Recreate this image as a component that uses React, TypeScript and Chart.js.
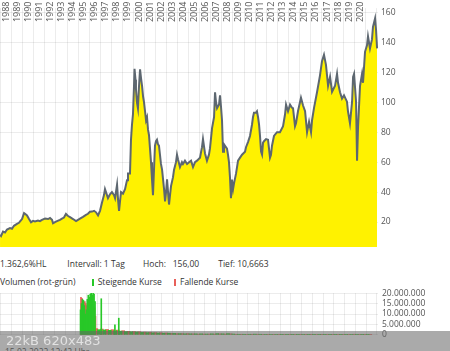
import React, { useEffect, useRef } from "react";
import { Chart, registerables } from "chart.js";

Chart.register(...registerables);

// ---------- data ----------
const yearLabels = [
  1988, 1989, 1990, 1991, 1992, 1993, 1994, 1995, 1996, 1997, 1998, 1999, 2000,
  2001, 2002, 2003, 2004, 2005, 2006, 2007, 2008, 2009, 2010, 2011, 2012, 2013,
  2014, 2015, 2016, 2017, 2018, 2019, 2020,
];
const gridYears = [
  1988, 1989, 1990, 1991, 1992, 1993, 1994, 1995, 1996, 1997, 1998, 1999, 2000,
  2001, 2002, 2003, 2004, 2005, 2006, 2007, 2008, 2009, 2010, 2011, 2012, 2013,
  2014, 2015, 2016, 2017, 2018, 2019, 2020, 2021, 2022,
];
const priceTicks = [20, 40, 60, 80, 100, 120, 140, 160];
const volumeTicks = [0, 5000000, 10000000, 15000000, 20000000];

const priceYears = [
  1987.94, 1988.03, 1988.21, 1988.39, 1988.57, 1988.84, 1989.02, 1989.2, 1989.47, 1989.65,
  1989.75, 1989.93, 1990.11, 1990.2, 1990.38, 1990.56, 1990.74, 1990.92, 1991.1, 1991.37,
  1991.55, 1991.73, 1992.01, 1992.28, 1992.46, 1992.64, 1992.73, 1992.91, 1993.09, 1993.36,
  1993.54, 1993.72, 1993.9, 1994.09, 1994.27, 1994.54, 1994.81, 1994.99, 1995.17, 1995.44,
  1995.71, 1995.89, 1996.07, 1996.26, 1996.44, 1996.62, 1996.8, 1996.98, 1997.16, 1997.34,
  1997.43, 1997.61, 1997.7, 1997.88, 1998.06, 1998.25, 1998.34, 1998.52, 1998.61, 1998.7,
  1998.79, 1998.88, 1999.06, 1999.24, 1999.42, 1999.51, 1999.69, 1999.78, 1999.87, 1999.96,
  2000.05, 2000.1, 2000.19, 2000.23, 2000.32, 2000.41, 2000.5, 2000.6, 2000.69, 2000.78,
  2000.87, 2000.96, 2001.05, 2001.14, 2001.23, 2001.32, 2001.41, 2001.5, 2001.59, 2001.68,
  2001.77, 2001.86, 2001.95, 2002.04, 2002.13, 2002.22, 2002.31, 2002.4, 2002.49, 2002.59,
  2002.68, 2002.77, 2002.86, 2002.95, 2003.04, 2003.13, 2003.22, 2003.31, 2003.4, 2003.58,
  2003.67, 2003.85, 2003.94, 2004.03, 2004.21, 2004.39, 2004.48, 2004.66, 2004.85, 2005.03,
  2005.21, 2005.39, 2005.57, 2005.75, 2006.02, 2006.2, 2006.29, 2006.47, 2006.65, 2006.83,
  2006.92, 2007.11, 2007.29, 2007.38, 2007.47, 2007.56, 2007.74, 2007.83, 2007.92, 2008.01,
  2008.1, 2008.19, 2008.28, 2008.46, 2008.55, 2008.64, 2008.73, 2008.82, 2008.91, 2009.01,
  2009.1, 2009.28, 2009.46, 2009.64, 2009.82, 2010.09, 2010.18, 2010.36, 2010.54, 2010.72,
  2010.81, 2010.9, 2011.08, 2011.17, 2011.27, 2011.36, 2011.45, 2011.54, 2011.63, 2011.72,
  2011.81, 2011.99, 2012.17, 2012.26, 2012.35, 2012.44, 2012.53, 2012.71, 2012.98, 2013.25,
  2013.53, 2013.71, 2013.8, 2013.98, 2014.16, 2014.34, 2014.43, 2014.61, 2014.7, 2014.88,
  2015.15, 2015.33, 2015.52, 2015.7, 2015.88, 2016.06, 2016.15, 2016.33, 2016.6, 2016.87,
  2017.05, 2017.23, 2017.41, 2017.6, 2017.78, 2017.96, 2018.23, 2018.41, 2018.5, 2018.68,
  2018.86, 2019.04, 2019.31, 2019.4, 2019.58, 2019.77, 2019.86, 2019.95, 2020.13, 2020.22,
  2020.31, 2020.49, 2020.67, 2020.76, 2020.94, 2021.12, 2021.21, 2021.39, 2021.57, 2021.66,
  2021.85, 2021.94, 2022.03,
];
const priceValues = [
  11.5, 10.67, 13.6, 13, 15, 16, 15.5, 17.5, 18.8, 19.5,
  20.4, 22, 26, 25.5, 24.4, 22, 19.8, 20.8, 20.4, 21,
  20.6, 21.5, 22.3, 22, 22.7, 21.5, 19.2, 20, 20.6, 21.5,
  22.3, 23, 25.4, 24, 23.3, 22, 20.6, 21.5, 22.3, 23.5,
  24.8, 25.5, 26.9, 27, 27.5, 26.5, 24.4, 27.5, 33, 38,
  42, 38, 35.9, 38.5, 40, 38, 36, 45, 35, 27.5,
  34, 40, 39, 42, 48, 52.5, 52.5, 75, 85, 92,
  110, 122.3, 115, 108.7, 100, 96, 110, 122, 116, 111,
  104, 100, 94, 88, 90, 81.7, 78, 69, 60, 48.5,
  38, 55, 71, 74, 75, 72, 71, 65, 58.8, 55,
  48.5, 42, 33.8, 40, 48.5, 40, 31.7, 38, 44, 50,
  54.8, 60, 65, 62, 56.7, 60, 58.8, 61, 58.8, 60,
  61, 56.7, 60, 61, 63, 70, 75.4, 66, 61, 65,
  69, 82.7, 90, 106.7, 100, 96, 98.5, 104.6, 97, 88,
  67, 72, 71, 69, 65, 60, 50, 36, 48.4, 42,
  46, 52.5, 61, 63, 65, 67, 70, 73.4, 77.5, 85,
  90, 93, 93, 94, 90, 85, 77, 67, 65, 73,
  74, 75.4, 75, 69, 63, 65, 71, 77.5, 80, 80,
  84, 92, 98.4, 94, 98.4, 96.3, 96, 84, 86, 94,
  103, 98, 94, 80, 87, 80, 88, 96.3, 106.7, 118,
  127.5, 131.7, 125, 111, 117, 107, 111, 119, 113, 106.7,
  102.5, 104.6, 100.4, 94, 86, 100.4, 117, 119, 100.4, 61,
  83.7, 111, 119, 113, 133.7, 138, 144, 136, 142, 150.4,
  156, 148, 136,
];

// dense volume bars (1995-1998 spikes); 1 = rising (green), 0 = falling (red)
const volDenseYears = [
  1994.93, 1994.97, 1995.02, 1995.06, 1995.11, 1995.15, 1995.2, 1995.24, 1995.29, 1995.33,
  1995.38, 1995.42, 1995.47, 1995.51, 1995.56, 1995.6, 1995.65, 1995.69, 1995.74, 1995.78,
  1995.83, 1995.87, 1995.92, 1995.96, 1996.01, 1996.05, 1996.1, 1996.14, 1996.19, 1996.23,
  1996.28, 1996.32, 1996.86, 1998.13, 1998.49,
];
const volDenseValues = [
  12, 18, 15, 17.5, 17, 16, 16.5, 15, 14, 16,
  10, 15, 12, 14, 17, 11, 19, 12, 18, 13,
  19.5, 10, 20, 12, 19, 14, 20, 12, 19.5, 13,
  16, 9, 17.3, 4.8, 8,
];
const volDenseRising = [
  1, 0, 1, 0, 1, 0, 1, 0, 1, 0,
  1, 0, 1, 0, 1, 0, 1, 0, 1, 0,
  1, 0, 1, 0, 1, 0, 1, 0, 1, 0,
  1, 0, 1, 1, 1,
];

// base volume (quarterly-ish), in millions
const volBaseYears = [
  1996.4, 1996.65, 1996.9, 1997.15, 1997.4, 1997.65, 1997.9, 1998.15, 1998.4, 1998.65,
  1998.9, 1999.15, 1999.4, 1999.65, 1999.9, 2000.15, 2000.4, 2000.65, 2000.9, 2001.15,
  2001.4, 2001.65, 2001.9, 2002.15, 2002.4, 2002.65, 2002.9, 2003.15, 2003.4, 2003.65,
  2003.9, 2004.15, 2004.4, 2004.65, 2004.9, 2005.15, 2005.4, 2005.65, 2005.9, 2006.15,
  2006.4, 2006.65, 2006.9, 2007.15, 2007.4, 2007.65, 2007.9, 2008.15, 2008.4, 2008.65,
  2008.9, 2009.15, 2009.4, 2009.65, 2009.9, 2010.15, 2010.4, 2010.65, 2010.9, 2011.15,
  2011.4, 2011.65, 2011.9, 2012.15, 2012.4, 2012.65, 2012.9, 2013.15, 2013.4, 2013.65,
  2013.9, 2014.15, 2014.4, 2014.65, 2014.9, 2015.15, 2015.4, 2015.65, 2015.9, 2016.15,
  2016.4, 2016.65, 2016.9, 2017.15, 2017.4, 2017.65, 2017.9, 2018.15, 2018.4, 2018.65,
  2018.9, 2019.15, 2019.4, 2019.65, 2019.9, 2020.15, 2020.4, 2020.65, 2020.9, 2021.15,
  2021.4, 2021.65, 2021.9,
];
const volBaseValues = [
  3, 2.5, 2.8, 2.4, 2.6, 2.2, 2.5, 2, 2.3, 1.8,
  2, 1.6, 1.7, 1.5, 1.6, 1.4, 1.5, 1.2, 1.3, 1.1,
  1.2, 1, 1.1, 0.9, 1, 0.8, 0.9, 0.8, 0.7, 0.7,
  0.6, 0.6, 0.6, 0.5, 0.6, 0.5, 0.5, 0.5, 0.4, 0.5,
  0.4, 0.4, 0.4, 0.5, 0.4, 0.6, 0.5, 0.5, 0.4, 0.6,
  0.5, 0.4, 0.3, 0.3, 0.3, 0.3, 0.25, 0.3, 0.3, 0.35,
  0.3, 0.3, 0.25, 0.25, 0.2, 0.25, 0.2, 0.25, 0.2, 0.2,
  0.25, 0.2, 0.2, 0.2, 0.25, 0.2, 0.2, 0.25, 0.2, 0.2,
  0.2, 0.2, 0.25, 0.2, 0.2, 0.2, 0.2, 0.2, 0.2, 0.2,
  0.2, 0.2, 0.2, 0.2, 0.2, 0.25, 0.3, 0.2, 0.2, 0.2,
  0.2, 0.2, 0.2,
];

const infoTexts = ["1.362,6%HL", "Intervall: 1 Tag", "Hoch:", "156,00", "Tief: 10,6663"];

// ---------- styles ----------
const FONT = '"Open Sans", "Noto Sans", sans-serif';
const X_MIN = 1987.937;
const X_MAX = 2022.114;
const GRID = "rgba(0,0,0,0.075)";
const GREEN = "rgb(40,200,40)";
const RED = "rgb(232,96,90)";

const yearLabelPlugin = {
  id: "yearLabels",
  afterDraw(chart: any) {
    const xs = chart.scales.x;
    const ctx = chart.ctx;
    ctx.save();
    ctx.font = `9px ${FONT}`;
    ctx.fillStyle = "#555";
    ctx.textAlign = "right";
    ctx.textBaseline = "middle";
    yearLabels.forEach((y) => {
      const px = xs.getPixelForValue(y + 0.5);
      ctx.save();
      ctx.translate(px, 1.5);
      ctx.rotate(-Math.PI / 2);
      ctx.fillText(String(y), 0, 0);
      ctx.restore();
    });
    ctx.restore();
  },
};

const fmt = (v: number) => String(Math.round(v)).replace(/\B(?=(\d{3})+(?!\d))/g, ".");

function xScale() {
  return {
    type: "linear" as const,
    min: X_MIN,
    max: X_MAX,
    z: 1,
    afterBuildTicks: (s: any) => {
      s.ticks = gridYears.map((v) => ({ value: v }));
    },
    afterFit: (s: any) => {
      s.height = 0;
    },
    ticks: { display: false },
    grid: { color: GRID, drawTicks: false },
    border: { display: false },
  };
}

export default function App() {
  const priceRef = useRef<HTMLCanvasElement>(null);
  const volRef = useRef<HTMLCanvasElement>(null);

  useEffect(() => {
    const priceData = priceYears.map((x, i) => ({ x, y: priceValues[i] }));
    const pc = new Chart(priceRef.current!, {
      type: "line",
      data: {
        datasets: [
          {
            data: priceData,
            borderColor: "#5d6770",
            borderWidth: 2,
            backgroundColor: "#fff200",
            fill: "start",
            pointRadius: 0,
            tension: 0,
          },
        ],
      },
      options: {
        animation: false,
        responsive: false,
        events: [],
        layout: { padding: 0, autoPadding: false } as any,
        plugins: { legend: { display: false }, tooltip: { enabled: false } },
        scales: {
          x: xScale() as any,
          y: {
            position: "right",
            min: 3.4,
            max: 162.9,
            z: 1,
            afterBuildTicks: (s: any) => {
              s.ticks = priceTicks.map((v) => ({ value: v }));
            },
            afterFit: (s: any) => {
              s.width = 72;
            },
            ticks: {
              color: "#555",
              font: { family: FONT, size: 8.5 },
              padding: 3,
              autoSkip: false,
            },
            grid: { color: GRID, drawTicks: false },
            border: { display: false },
          },
        },
      },
      plugins: [yearLabelPlugin],
    });

    const up: any[] = [];
    const down: any[] = [];
    volDenseYears.forEach((x, i) => {
      (volDenseRising[i] ? up : down).push({ x, y: volDenseValues[i] * 1e6 });
    });
    const baseUp: any[] = [];
    const baseDown: any[] = [];
    volBaseYears.forEach((x, i) => {
      (i % 2 === 0 ? baseDown : baseUp).push({ x, y: volBaseValues[i] * 1e6 });
    });

    const vc = new Chart(volRef.current!, {
      type: "bar",
      data: {
        datasets: [
          { data: up, backgroundColor: GREEN, barThickness: 1, grouped: false },
          { data: down, backgroundColor: RED, barThickness: 1, grouped: false },
          { data: baseUp, backgroundColor: GREEN, barThickness: 3, grouped: false },
          { data: baseDown, backgroundColor: RED, barThickness: 3, grouped: false },
        ] as any,
      },
      options: {
        animation: false,
        responsive: false,
        events: [],
        layout: { padding: { top: 6.5, bottom: 6, left: 0, right: 0 }, autoPadding: false } as any,
        plugins: { legend: { display: false }, tooltip: { enabled: false } },
        scales: {
          x: xScale() as any,
          y: {
            position: "right",
            min: 0,
            max: 20000000,
            afterBuildTicks: (s: any) => {
              s.ticks = volumeTicks.map((v) => ({ value: v }));
            },
            afterFit: (s: any) => {
              s.width = 72;
            },
            ticks: {
              color: "#555",
              font: { family: FONT, size: 8.5 },
              padding: 4,
              autoSkip: false,
              callback: (v: any) => fmt(Number(v)),
            },
            grid: { color: GRID, drawTicks: false },
            border: { display: false },
          },
        },
      },
    });

    return () => {
      pc.destroy();
      vc.destroy();
    };
  }, []);

  const txt: React.CSSProperties = {
    position: "absolute",
    fontFamily: FONT,
    fontSize: 8.5,
    lineHeight: "10px",
    color: "#333",
    whiteSpace: "nowrap",
  };

  return (
    <div
      style={{
        position: "absolute",
        left: 0,
        top: 0,
        width: 450,
        height: 351,
        overflow: "hidden",
        background: "#fff",
      }}
    >
      <canvas
        ref={priceRef}
        width={450}
        height={255}
        style={{ position: "absolute", left: 0, top: 0, width: 450, height: 255 }}
      />
      <span style={{ ...txt, left: 0, top: 259.3 }}>{infoTexts[0]}</span>
      <span style={{ ...txt, left: 67.3, top: 259.3 }}>{infoTexts[1]}</span>
      <span style={{ ...txt, left: 143, top: 259.3 }}>{infoTexts[2]}</span>
      <span style={{ ...txt, left: 172.7, top: 259.3 }}>{infoTexts[3]}</span>
      <span style={{ ...txt, left: 218.3, top: 259.3 }}>{infoTexts[4]}</span>

      <span style={{ ...txt, left: 0, top: 277.3 }}>Volumen (rot-grün)</span>
      <span
        style={{ position: "absolute", left: 91.7, top: 279, width: 2, height: 6.7, background: GREEN }}
      />
      <span style={{ ...txt, left: 97.7, top: 277.3 }}>Steigende Kurse</span>
      <span
        style={{ position: "absolute", left: 173.5, top: 279, width: 2, height: 6.7, background: RED }}
      />
      <span style={{ ...txt, left: 180, top: 277.3 }}>Fallende Kurse</span>

      <canvas
        ref={volRef}
        width={450}
        height={60}
        style={{ position: "absolute", left: 0, top: 284, width: 450, height: 60 }}
      />
      <span style={{ ...txt, left: 5, top: 346.5, color: "#444" }}>15.02.2022 12:42 Uhr</span>
      <div
        style={{
          position: "absolute",
          left: 0,
          top: 331,
          width: 450,
          height: 20,
          background: "rgba(100,100,100,0.55)",
        }}
      >
        <span
          style={{
            position: "absolute",
            left: 6,
            top: 0,
            lineHeight: "20px",
            fontFamily: '"DejaVu Sans", sans-serif',
            fontSize: 13,
            color: "#e2e2e2",
            whiteSpace: "nowrap",
          }}
        >
          22kB 620x483
        </span>
      </div>
    </div>
  );
}
